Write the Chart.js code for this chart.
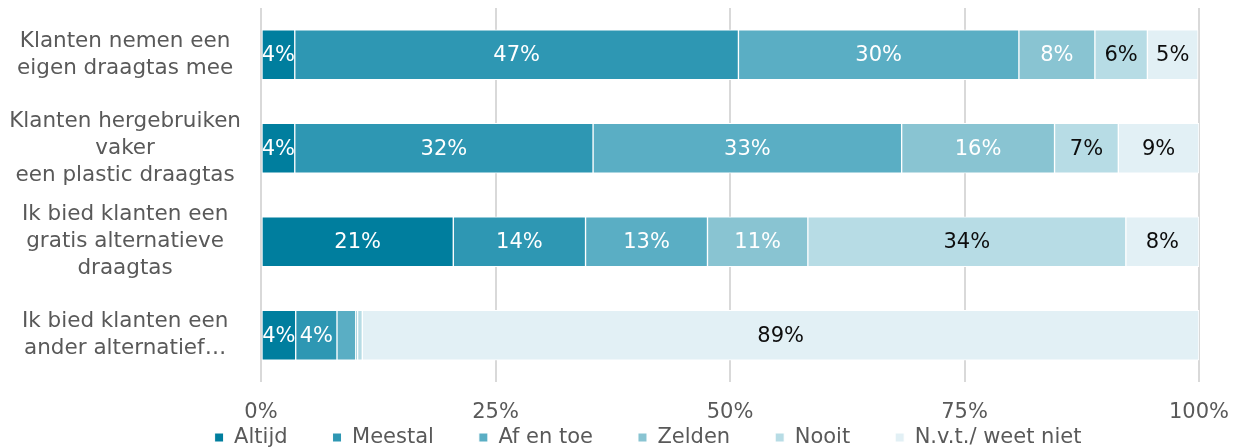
<!DOCTYPE html>
<html>
<head>
<meta charset="utf-8">
<script src="https://cdn.jsdelivr.net/npm/chart.js@4"></script>
<style>
  html, body { margin: 0; padding: 0; background: #fff; }
  #wrap { width: 1243px; height: 447px; position: relative; }
</style>
</head>
<body>
<div id="wrap"><canvas id="chart"></canvas></div>
<script>
(function () {
    'use strict';

    var CATEGORIES = [
        ['Klanten nemen een', 'eigen draagtas mee'],
        ['Klanten hergebruiken', 'vaker', 'een plastic draagtas'],
        ['Ik bied klanten een', 'gratis alternatieve', 'draagtas'],
        ['Ik bied klanten een', 'ander alternatief\u2026']
    ];

    var SERIES = ['Altijd', 'Meestal', 'Af en toe', 'Zelden', 'Nooit', 'N.v.t./ weet niet'];

    var ALTIJD   = [3.6, 3.6, 20.5, 3.7];
    var MEESTAL  = [47.3, 31.8, 14.1, 4.4];
    var AF_EN_TOE = [29.9, 32.9, 13.0, 2.0];
    var ZELDEN   = [8.1, 16.3, 10.7, 0.2];
    var NOOIT    = [5.6, 6.8, 33.9, 0.5];
    var NVT      = [5.4, 8.6, 7.8, 89.2];

    var X_TICKS = [0, 25, 50, 75, 100];

    var COLORS = ['#007e9e', '#2e97b3', '#5aaec4', '#89c4d2', '#b7dce5', '#e2f0f5'];
    var LABEL_COLORS = ['#ffffff', '#ffffff', '#ffffff', '#ffffff', '#0d0d0d', '#0d0d0d'];
    var FONT = '"DejaVu Sans", Verdana, sans-serif';

    var values = [ALTIJD, MEESTAL, AF_EN_TOE, ZELDEN, NOOIT, NVT];

    // percentage labels inside the segments
    var segmentLabels = {
        id: 'segmentLabels',
        afterDatasetsDraw: function (chart) {
            var ctx = chart.ctx;
            ctx.save();
            ctx.font = '21px ' + FONT;
            ctx.textAlign = 'center';
            ctx.textBaseline = 'middle';
            chart.data.datasets.forEach(function (ds, di) {
                var meta = chart.getDatasetMeta(di);
                meta.data.forEach(function (bar, i) {
                    var v = ds.data[i];
                    if (v < 3) return;
                    var p = bar.getCenterPoint();
                    ctx.fillStyle = LABEL_COLORS[di];
                    ctx.fillText(Math.round(v) + '%', p.x, p.y + 1);
                });
            });
            ctx.restore();
        }
    };

    // axis boxes are squeezed to fit the layout, so drop the label clipping
    function looseScale(scale) {
        scale.paddingTop = 0;
        scale.paddingBottom = 0;
        scale.paddingLeft = 0;
        scale.paddingRight = 0;
        scale._computeLabelArea = function () { return null; };
    }

    new Chart(document.getElementById('chart'), {
        type: 'bar',
        data: {
            labels: CATEGORIES,
            datasets: SERIES.map(function (name, i) {
                return {
                    label: name,
                    data: values[i],
                    backgroundColor: COLORS[i],
                    borderColor: '#ffffff',
                    borderWidth: 1,
                    borderSkipped: false,
                    barThickness: 50
                };
            })
        },
        options: {
            indexAxis: 'y',
            responsive: true,
            maintainAspectRatio: false,
            animation: false,
            layout: { padding: { top: 8, right: 44, left: 97, bottom: 0 } },
            plugins: {
                tooltip: { enabled: false },
                legend: {
                    position: 'bottom',
                    maxHeight: 65,
                    labels: {
                        boxWidth: 9,
                        boxHeight: 9,
                        padding: 45,
                        color: '#595959',
                        font: { family: FONT, size: 21 }
                    }
                }
            },
            scales: {
                x: {
                    stacked: true,
                    min: 0,
                    max: 100,
                    afterBuildTicks: function (scale) {
                        scale.ticks = X_TICKS.map(function (v) { return { value: v }; });
                    },
                    afterFit: function (scale) {
                        looseScale(scale);
                        scale.height = 0;
                    },
                    grid: { color: '#d9d9d9', lineWidth: 2, drawTicks: false },
                    border: { display: false },
                    ticks: {
                        padding: 18,
                        color: '#595959',
                        font: { family: FONT, size: 21 },
                        callback: function (v) { return v + '%'; }
                    }
                },
                y: {
                    stacked: true,
                    afterFit: function (scale) {
                        looseScale(scale);
                        scale.width = 164;
                    },
                    grid: { display: false, drawTicks: false },
                    border: { display: false },
                    ticks: {
                        padding: 20,
                        crossAlign: 'center',
                        color: '#595959',
                        font: { family: FONT, size: 21.5, lineHeight: 1.25 }
                    }
                }
            }
        },
        plugins: [segmentLabels]
    });
})();
</script>
</body>
</html>
